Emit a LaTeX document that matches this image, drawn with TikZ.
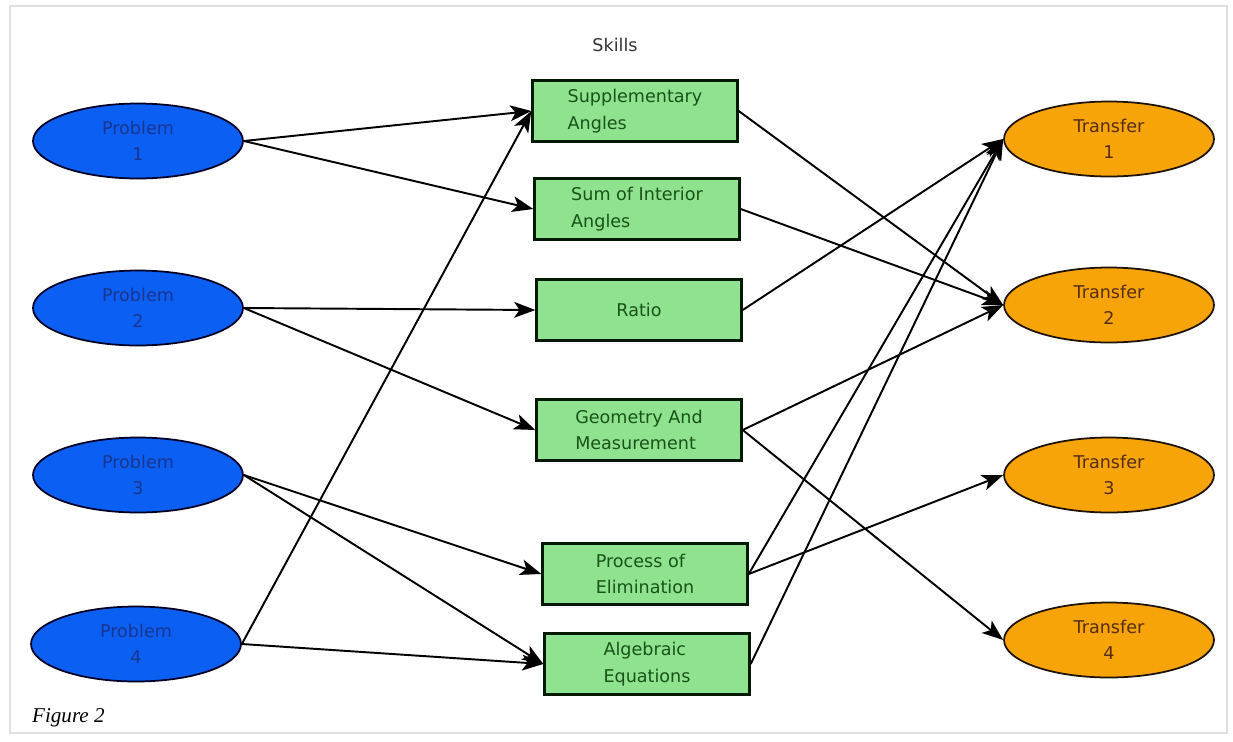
\documentclass[tikz,border=0pt]{standalone}
\usepackage{fontspec}
\setmainfont{DejaVu Sans}
\newfontfamily\captionfont{Liberation Serif}
\usetikzlibrary{shapes.geometric,arrows.meta}

\definecolor{probfill}{HTML}{0B5FF2}
\definecolor{probtext}{HTML}{1A3590}
\definecolor{skillfill}{HTML}{8FE38F}
\definecolor{skilltext}{HTML}{1A521A}
\definecolor{transfill}{HTML}{F7A408}
\definecolor{transtext}{HTML}{552E10}

\begin{document}
\begin{tikzpicture}[
    x=0.02cm, y=-0.02cm,
    problem/.style={ellipse, draw=black!85!blue, line width=1pt, fill=probfill, text=probtext,
        minimum width=4.2cm, minimum height=1.5cm, inner sep=0pt, align=center,
        font=\fontsize{10}{15}\selectfont},
    transfer/.style={problem, draw=black!85!brown, fill=transfill, text=transtext},
    skill/.style={rectangle, draw=black!90!green, line width=1.4pt, fill=skillfill, text=skilltext,
        minimum width=4.1cm, minimum height=1.22cm, inner sep=0pt, align=left,
        font=\fontsize{10}{15}\selectfont},
    link/.style={-{Stealth[length=12pt,width=9pt,inset=3pt]}, line width=1.1pt, black}
]

% Frame
\useasboundingbox (0,0) rectangle (1233,741);
\draw[black!12, line width=0.6pt] (10,6) rectangle (1227,733);

% Problems
\foreach \i/\x/\y in {1/138/141, 2/138/308, 3/138/475, 4/136/644} {
    \node[problem] (P-\i) at (\x,\y) {Problem\\\i};
}

% Transfers
\foreach \k/\y in {1/139, 2/305, 3/475, 4/640} {
    \node[transfer] (T-\k) at (1109,\y) {Transfer\\\k};
}

% Skills
\node[text=black!80, font=\fontsize{10}{12}\selectfont] (skills) at (615,45) {Skills};
\node[skill] (S-1) at (635,111) {Supplementary\\Angles};
\node[skill] (S-2) at (637,209) {Sum of Interior\\Angles};
\node[skill] (S-3) at (639,310) {Ratio};
\node[skill] (S-4) at (639,430) {Geometry And\\Measurement};
\node[skill] (S-5) at (645,574) {Process of\\Elimination};
\node[skill] (S-6) at (647,664) {Algebraic\\Equations};

% Connections: Problem -> Skill
\foreach \i/\j in {1/1, 1/2, 2/3, 2/4, 3/5, 3/6, 4/1, 4/6} {
    \draw[link] (P-\i.east) -- (S-\j.west);
}

% Connections: Skill -> Transfer
\foreach \j/\k in {1/2, 2/2, 3/1, 4/2, 4/4, 5/1, 5/3, 6/1} {
    \draw[link] (S-\j.east) -- (T-\k.west);
}

% Caption
\node[anchor=west, font=\captionfont\itshape\fontsize{12}{14}\selectfont] (caption) at (26,718) {Figure 2};

\end{tikzpicture}
\end{document}
